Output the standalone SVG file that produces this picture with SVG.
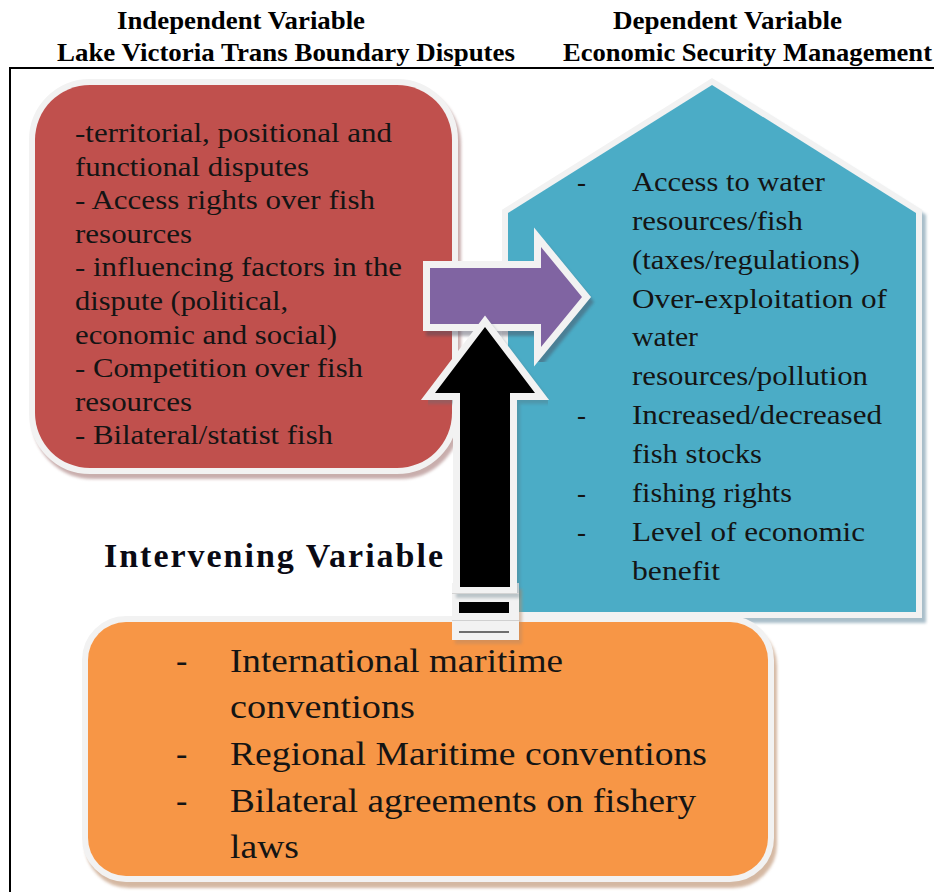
<svg xmlns="http://www.w3.org/2000/svg" xmlns:xlink="http://www.w3.org/1999/xlink" width="934" height="892" viewBox="0 0 934 892">
  <style>
    .head { font-family: "Liberation Serif", "Times New Roman", serif; font-weight: bold; font-size: 25px; fill: #000; }
    .body { font-family: "Liberation Serif", "Times New Roman", serif; font-size: 27px; fill: #141414; }
    .big { font-family: "Liberation Serif", "Times New Roman", serif; font-size: 34px; fill: #141414; }
    .label { font-family: "Liberation Serif", "Times New Roman", serif; font-weight: bold; font-size: 34px; fill: #0a0a14; }
    .rim { fill: #f2f2f2; stroke: #f2f2f2; stroke-width: 12; stroke-linejoin: miter; }
    .rim-arrow { fill: #f2f2f2; stroke: #f2f2f2; stroke-width: 14; stroke-linejoin: miter; stroke-miterlimit: 10; }
  </style>
  <defs>
    <filter id="soft" x="-10%" y="-10%" width="120%" height="120%">
      <feGaussianBlur stdDeviation="1.5"/>
    </filter>
    <rect id="redShape" x="35" y="85" width="417" height="383" rx="55"/>
    <path id="houseShape" d="M712,85 L916,213 L916,612 L508,612 L508,213 Z"/>
    <rect id="orangeShape" x="88" y="622" width="680" height="254" rx="38"/>
    <path id="rightArrow" d="M430,268 L541,268 L541,247 L582,297 L541,347 L541,324 L430,324 Z"/>
    <path id="upArrow" d="M460,587 L460,393 L435,393 L485,327 L535,393 L510,393 L510,587 Z"/>
  </defs>

  <!-- outer frame -->
  <rect x="10" y="68" width="940" height="840" fill="none" stroke="#000" stroke-width="2"/>

  <!-- column headings -->
  <g id="headings">
    <text class="head" x="117" y="29" textLength="248" lengthAdjust="spacingAndGlyphs">Independent Variable</text>
    <text class="head" x="57" y="61" textLength="458" lengthAdjust="spacingAndGlyphs">Lake Victoria Trans Boundary Disputes</text>
    <text class="head" x="613" y="29" textLength="229" lengthAdjust="spacingAndGlyphs">Dependent Variable</text>
    <text class="head" x="563" y="61" textLength="369" lengthAdjust="spacingAndGlyphs">Economic Security Management</text>
  </g>

  <!-- independent variable box -->
  <g id="independent">
    <use xlink:href="#redShape" transform="translate(3,5)" fill="#9c6c6a" stroke="#9c6c6a" stroke-width="12" opacity="0.55" filter="url(#soft)"/>
    <use xlink:href="#redShape" class="rim"/>
    <use xlink:href="#redShape" fill="#c0504d"/>
    <text class="body" x="75" y="142" textLength="317" lengthAdjust="spacingAndGlyphs">-territorial, positional and</text>
    <text class="body" x="75" y="175.6" textLength="234" lengthAdjust="spacingAndGlyphs">functional disputes</text>
    <text class="body" x="75" y="209.2" textLength="300" lengthAdjust="spacingAndGlyphs">- Access rights  over fish</text>
    <text class="body" x="75" y="242.8" textLength="117" lengthAdjust="spacingAndGlyphs">resources</text>
    <text class="body" x="75" y="276.4" textLength="327" lengthAdjust="spacingAndGlyphs">- influencing factors in the</text>
    <text class="body" x="75" y="310" textLength="213" lengthAdjust="spacingAndGlyphs">dispute (political,</text>
    <text class="body" x="75" y="343.6" textLength="262" lengthAdjust="spacingAndGlyphs">economic and social)</text>
    <text class="body" x="75" y="377.2" textLength="288" lengthAdjust="spacingAndGlyphs">- Competition over fish</text>
    <text class="body" x="75" y="410.8" textLength="117" lengthAdjust="spacingAndGlyphs">resources</text>
    <text class="body" x="75" y="444.4" textLength="258" lengthAdjust="spacingAndGlyphs">- Bilateral/statist  fish</text>
  </g>

  <!-- dependent variable house -->
  <g id="dependent">
    <use xlink:href="#houseShape" transform="translate(4,5)" fill="#6f93a6" stroke="#6f93a6" stroke-width="12" opacity="0.6" filter="url(#soft)"/>
    <use xlink:href="#houseShape" class="rim"/>
    <use xlink:href="#houseShape" fill="#4bacc6"/>
    <text class="body" x="577" y="191">-</text>
    <text class="body" x="632" y="191" textLength="193" lengthAdjust="spacingAndGlyphs">Access to water</text>
    <text class="body" x="632" y="229.9" textLength="171" lengthAdjust="spacingAndGlyphs">resources/fish</text>
    <text class="body" x="632" y="268.7" textLength="228" lengthAdjust="spacingAndGlyphs">(taxes/regulations)</text>
    <text class="body" x="632" y="307.6" textLength="255" lengthAdjust="spacingAndGlyphs">Over-exploitation of</text>
    <text class="body" x="632" y="346.4" textLength="66" lengthAdjust="spacingAndGlyphs">water</text>
    <text class="body" x="632" y="385.3" textLength="236" lengthAdjust="spacingAndGlyphs">resources/pollution</text>
    <text class="body" x="577" y="424.1">-</text>
    <text class="body" x="632" y="424.1" textLength="250" lengthAdjust="spacingAndGlyphs">Increased/decreased</text>
    <text class="body" x="632" y="463" textLength="130" lengthAdjust="spacingAndGlyphs">fish stocks</text>
    <text class="body" x="577" y="501.8">-</text>
    <text class="body" x="632" y="501.8" textLength="160" lengthAdjust="spacingAndGlyphs">fishing rights</text>
    <text class="body" x="577" y="540.7">-</text>
    <text class="body" x="632" y="540.7" textLength="233" lengthAdjust="spacingAndGlyphs">Level of economic</text>
    <text class="body" x="632" y="579.5" textLength="88" lengthAdjust="spacingAndGlyphs">benefit</text>
  </g>

  <!-- intervening variable box -->
  <g id="intervening">
    <use xlink:href="#orangeShape" transform="translate(3,6)" fill="#b98a66" stroke="#b98a66" stroke-width="12" opacity="0.6" filter="url(#soft)"/>
    <use xlink:href="#orangeShape" class="rim"/>
    <use xlink:href="#orangeShape" fill="#f79646"/>
    <text class="big" x="176" y="672">-</text>
    <text class="big" x="230" y="672" textLength="333" lengthAdjust="spacingAndGlyphs">International maritime</text>
    <text class="big" x="230" y="718" textLength="185" lengthAdjust="spacingAndGlyphs">conventions</text>
    <text class="big" x="176" y="765">-</text>
    <text class="big" x="230" y="765" textLength="477" lengthAdjust="spacingAndGlyphs">Regional Maritime conventions</text>
    <text class="big" x="176" y="812">-</text>
    <text class="big" x="230" y="812" textLength="466" lengthAdjust="spacingAndGlyphs">Bilateral agreements on fishery</text>
    <text class="big" x="230" y="858" textLength="69" lengthAdjust="spacingAndGlyphs">laws</text>
  </g>

  <g id="intervening-label">
    <text class="label" x="104" y="567" textLength="339" lengthAdjust="spacing">Intervening Variable</text>
  </g>

  <!-- connectors -->
  <g id="connectors">
    <!-- independent to dependent -->
    <g id="arrow-right">
      <use xlink:href="#rightArrow" transform="translate(3,5)" fill="#4a4a5a" stroke="#4a4a5a" stroke-width="14" opacity="0.45" filter="url(#soft)"/>
      <use xlink:href="#rightArrow" class="rim-arrow"/>
      <use xlink:href="#rightArrow" fill="#8064a2"/>
    </g>
    <!-- intervening to the link -->
    <g id="arrow-up">
      <rect x="455" y="589" width="67" height="55" fill="#b98a66" opacity="0.5" filter="url(#soft)"/>
      <rect x="452" y="583" width="67" height="57" fill="#f2f2f2"/>
      <use xlink:href="#upArrow" transform="translate(3,4)" fill="#55707a" stroke="#55707a" stroke-width="14" opacity="0.35" filter="url(#soft)"/>
      <use xlink:href="#upArrow" class="rim-arrow"/>
      <use xlink:href="#upArrow" fill="#000"/>
      <line x1="452" y1="593.5" x2="519" y2="593.5" stroke="#d4d4d4" stroke-width="1"/>
      <rect x="459" y="602" width="50" height="11" fill="#000"/>
      <line x1="452" y1="620.5" x2="519" y2="620.5" stroke="#d0d0d0" stroke-width="1"/>
      <rect x="459" y="631" width="50" height="2" fill="#6e6e6e"/>
    </g>
  </g>
</svg>
